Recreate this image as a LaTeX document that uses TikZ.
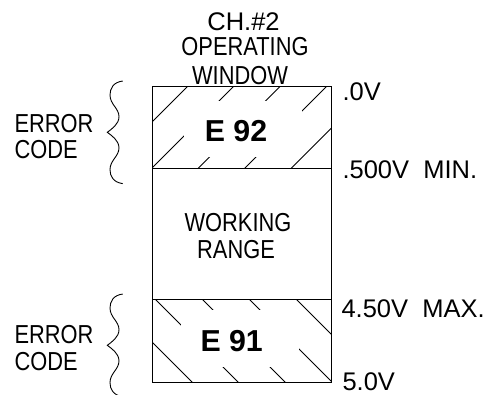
\documentclass[tikz,border=0pt]{standalone}
\usepackage{fontspec}
\setmainfont{Liberation Sans}
\newfontfamily\cadfont[FakeStretch=0.84]{Liberation Sans}
\newfontfamily\widefont{Liberation Sans}
\begin{document}
\begin{tikzpicture}[x=1pt,y=-1pt,line width=1pt,
  cad/.style={inner sep=0pt,font=\cadfont\fontsize{26}{28}\selectfont},
  volt/.style={inner sep=0pt,font=\widefont\fontsize{25.5}{28}\selectfont},
  code/.style={inner sep=0pt,font=\bfseries\fontsize{30.3}{32}\selectfont},
  hatch/.style={line width=0.8pt},
  errbrace/.pic={
    \draw[line width=0.9pt] (15.4,-51.3) .. controls (6,-50) and (2.7,-44) .. (2.7,-37.3)
      .. controls (2.7,-28) and (11.7,-24) .. (11.7,-15.6)
      .. controls (11.7,-8) and (4,-3) .. (0,0)
      .. controls (4,3) and (11.7,8) .. (11.7,15.6)
      .. controls (11.7,24) and (2.7,28) .. (2.7,37.3)
      .. controls (2.7,44) and (6,50) .. (15.4,51.3);
  }]
\useasboundingbox (0,0) rectangle (490,394);

% box corners
\coordinate (TL) at (152.3,86.7);
\coordinate (TR) at (331.7,86.7);
\coordinate (ML) at (152.3,168.3);
\coordinate (MR) at (331.7,168.3);
\coordinate (NL) at (152.3,299.3);
\coordinate (NR) at (331.7,299.3);
\coordinate (BL) at (152.3,382);
\coordinate (BR) at (331.7,382);

% top hatch
\begin{scope}
  \clip (TL) rectangle (MR);
  \foreach \c in {274,320,366.5,413,459.5}
    \draw[hatch] (100,\c-100) -- (400,\c-400);
  \fill[white] (184.3,100.7) rectangle (301.7,157.3);
\end{scope}

% bottom hatch
\begin{scope}
  \clip (NL) rectangle (BR);
  \foreach \c in {3,50,97,144,190}
    \draw[hatch] (100,100+\c) -- (400,400+\c);
  \fill[white] (180.7,310.3) rectangle (299.3,367);
\end{scope}

% box outline and dividers
\draw (TL) rectangle (BR);
\draw (ML) -- (MR);
\draw (NL) -- (NR);

% title
\node[volt,anchor=base] (t1) at (243.5,30) {CH.\#2};
\node[cad,anchor=base] (t2) at (245,55.5) {OPERATING};
\node[cad,anchor=base] (t3) at (240,84.5) {WINDOW};

% codes
\node[code,anchor=base] (e92) at (236,141) {E 92};
\node[code,anchor=base] (e91) at (231.7,351.7) {E 91};

% working range
\node[cad,anchor=base] (w1) at (238,231.7) {WORKING};
\node[cad,anchor=base] (w2) at (236,258.5) {RANGE};

% left labels
\node[cad,anchor=base west] (er1) at (14,132.7) {ERROR};
\node[cad,anchor=base west] (cd1) at (14,158.3) {CODE};
\node[cad,anchor=base west] (er2) at (14,343.3) {ERROR};
\node[cad,anchor=base west] (cd2) at (14,370) {CODE};

% braces
\pic at (107.3,132.3) {errbrace};
\pic at (107.3,345.3) {errbrace};

% right labels
\node[volt,anchor=base west] (v0) at (342,100) {.0V};
\node[volt,anchor=base west] (v05) at (342,178) {.500V\ \ MIN.};
\node[volt,anchor=base west] (v45) at (341,317.3) {4.50V\ \ MAX.};
\node[volt,anchor=base west] (v5) at (342,390) {5.0V};
\end{tikzpicture}
\end{document}
